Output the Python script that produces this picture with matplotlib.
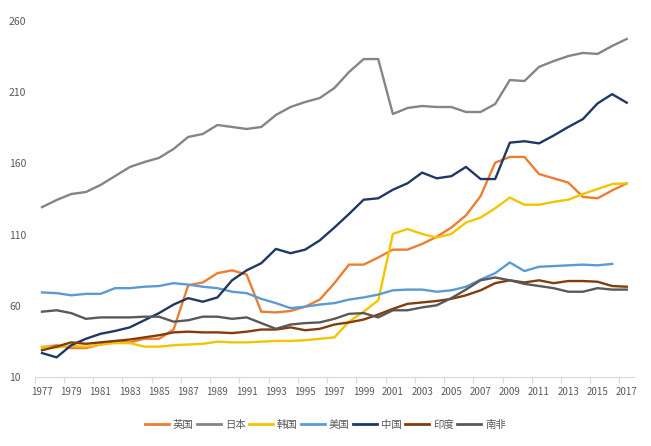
import matplotlib
matplotlib.use("Agg")
import matplotlib.pyplot as plt
import numpy as np

plt.rcParams['font.family'] = ['Noto Sans CJK SC', 'DejaVu Sans']

years = list(range(1977, 2018))

uk = [31, 32.5, 30.5, 30.5, 33, 35, 34.5, 37, 37, 43.5, 74.5, 76.5, 83, 85, 82,
      56, 55.5, 56.5, 59.5, 64.5, 76, 89, 89, 94, 99.5, 99.5, 103.5, 108.5, 115,
      123.5, 137, 160.5, 164.5, 164.5, 152.5, 149.5, 146.5, 136.5, 135.5, 141, 146]
japan = [129.3, 134.3, 138.5, 139.9, 144.8, 151.1, 157.4, 160.9, 163.8, 170.1,
         178.5, 180.6, 186.9, 185.5, 184.1, 185.5, 193.9, 199.5, 203, 205.8, 212.8,
         224, 233.1, 233.1, 194.6, 198.8, 200.2, 199.5, 199.5, 196, 196, 201.6,
         218.4, 217.7, 227.6, 231.7, 235.2, 237.4, 236.7, 242.3, 247.2]
korea = [31.5, 31, 32, 31.5, 33, 34, 34, 31.5, 31.5, 32.5, 33, 33.5, 35, 34.5, 34.5,
         35, 35.5, 35.5, 36, 37, 38, 49, 56, 64, 110.5, 114, 110.5, 108, 110.5,
         118.5, 122, 128.5, 136, 131, 131, 133, 134.5, 138.5, 142, 145.5, 146]
usa = [69.5, 69, 67.5, 68.5, 68.5, 72.5, 72.5, 73.5, 74, 76, 75, 73.5, 72.5, 70, 69,
       65, 62, 58.5, 59.5, 61, 62, 64.5, 66, 68, 71, 71.5, 71.5, 70, 71, 73.5, 78.5,
       83, 90.5, 84.5, 87.5, 88, 88.5, 89, 88.5, 89.5, np.nan]
china = [27, 24, 32.5, 37, 40.5, 42.5, 45, 50, 55, 61, 65.5, 63, 66, 78, 85, 90, 100,
         97, 99.5, 106, 115, 124.5, 134.5, 135.5, 141.5, 146, 153.5, 149.5, 151,
         157.5, 149, 149, 174.5, 175.5, 174, 179.5, 185.5, 191, 202, 208.5, 202.5]
india = [29, 31.5, 34.5, 33.5, 34.5, 35.5, 36.5, 38, 39.5, 41.5, 42, 41.5, 41.5, 41,
         42, 43.5, 43.5, 45, 43, 44, 47, 48.5, 50.5, 54, 58, 61.5, 62.5, 63.5, 65,
         67.5, 71, 76, 78, 76.5, 78, 76, 77.5, 77.5, 77, 74, 73.5]
safrica = [56, 57, 55, 51, 52, 52, 52, 52.5, 52.5, 49, 50, 52.5, 52.5, 51, 52, 48, 44,
           47, 48, 48.5, 51, 54.5, 55, 52, 57, 57, 59, 60.5, 65.5, 71.5, 78, 80, 78,
           75.5, 74, 72.5, 70, 70, 72.5, 71.5, 71.5]

series_names = ['英国', '日本', '韩国', '美国', '中国', '印度', '南非']
series_values = [uk, japan, korea, usa, china, india, safrica]
colors = ['#ED7D31', '#858585', '#F2C500', '#5B9BD5', '#1F3864', '#843C0C', '#595959']

yticks = [10, 60, 110, 160, 210, 260]
xtick_labels = [str(y) for y in years[::2]]

fig = plt.figure(figsize=(6.51, 4.46), dpi=100)
ax = fig.add_axes([0.0533, 0.154, 0.9207, 0.7996])

for name, vals, c in zip(series_names, series_values, colors):
    ax.plot(years, vals, color=c, lw=1.7, label=name, solid_joinstyle='round')

ax.set_xlim(1976.5, 2017.5)
ax.set_ylim(10, 260)
ax.set_yticks(yticks)
ax.set_xticks(years[::2])
ax.set_xticklabels(xtick_labels)
ax.set_xticks(np.arange(1976.5, 2018, 2), minor=True)

for s in ['top', 'right', 'left']:
    ax.spines[s].set_visible(False)
ax.spines['bottom'].set_color('#D9D9D9')
ax.spines['bottom'].set_linewidth(0.8)

ax.tick_params(axis='x', which='major', length=0, labelsize=7, labelcolor='#595959', pad=7)
ax.tick_params(axis='x', which='minor', length=4, color='#D9D9D9', width=0.8)
ax.tick_params(axis='y', length=0, labelsize=7.5, labelcolor='#595959')
for lab in ax.get_yticklabels():
    lab.set_horizontalalignment('left')
ax.yaxis.set_tick_params(pad=18.5)

leg = fig.legend(loc='center', bbox_to_anchor=(0.5, 0.047), ncol=7, frameon=False,
                 fontsize=7.5, handlelength=2.3, columnspacing=0.35, handletextpad=0.35,
                 labelcolor='#595959')
for h in leg.get_lines():
    h.set_linewidth(2)

fig.savefig('out.png', dpi=100)
